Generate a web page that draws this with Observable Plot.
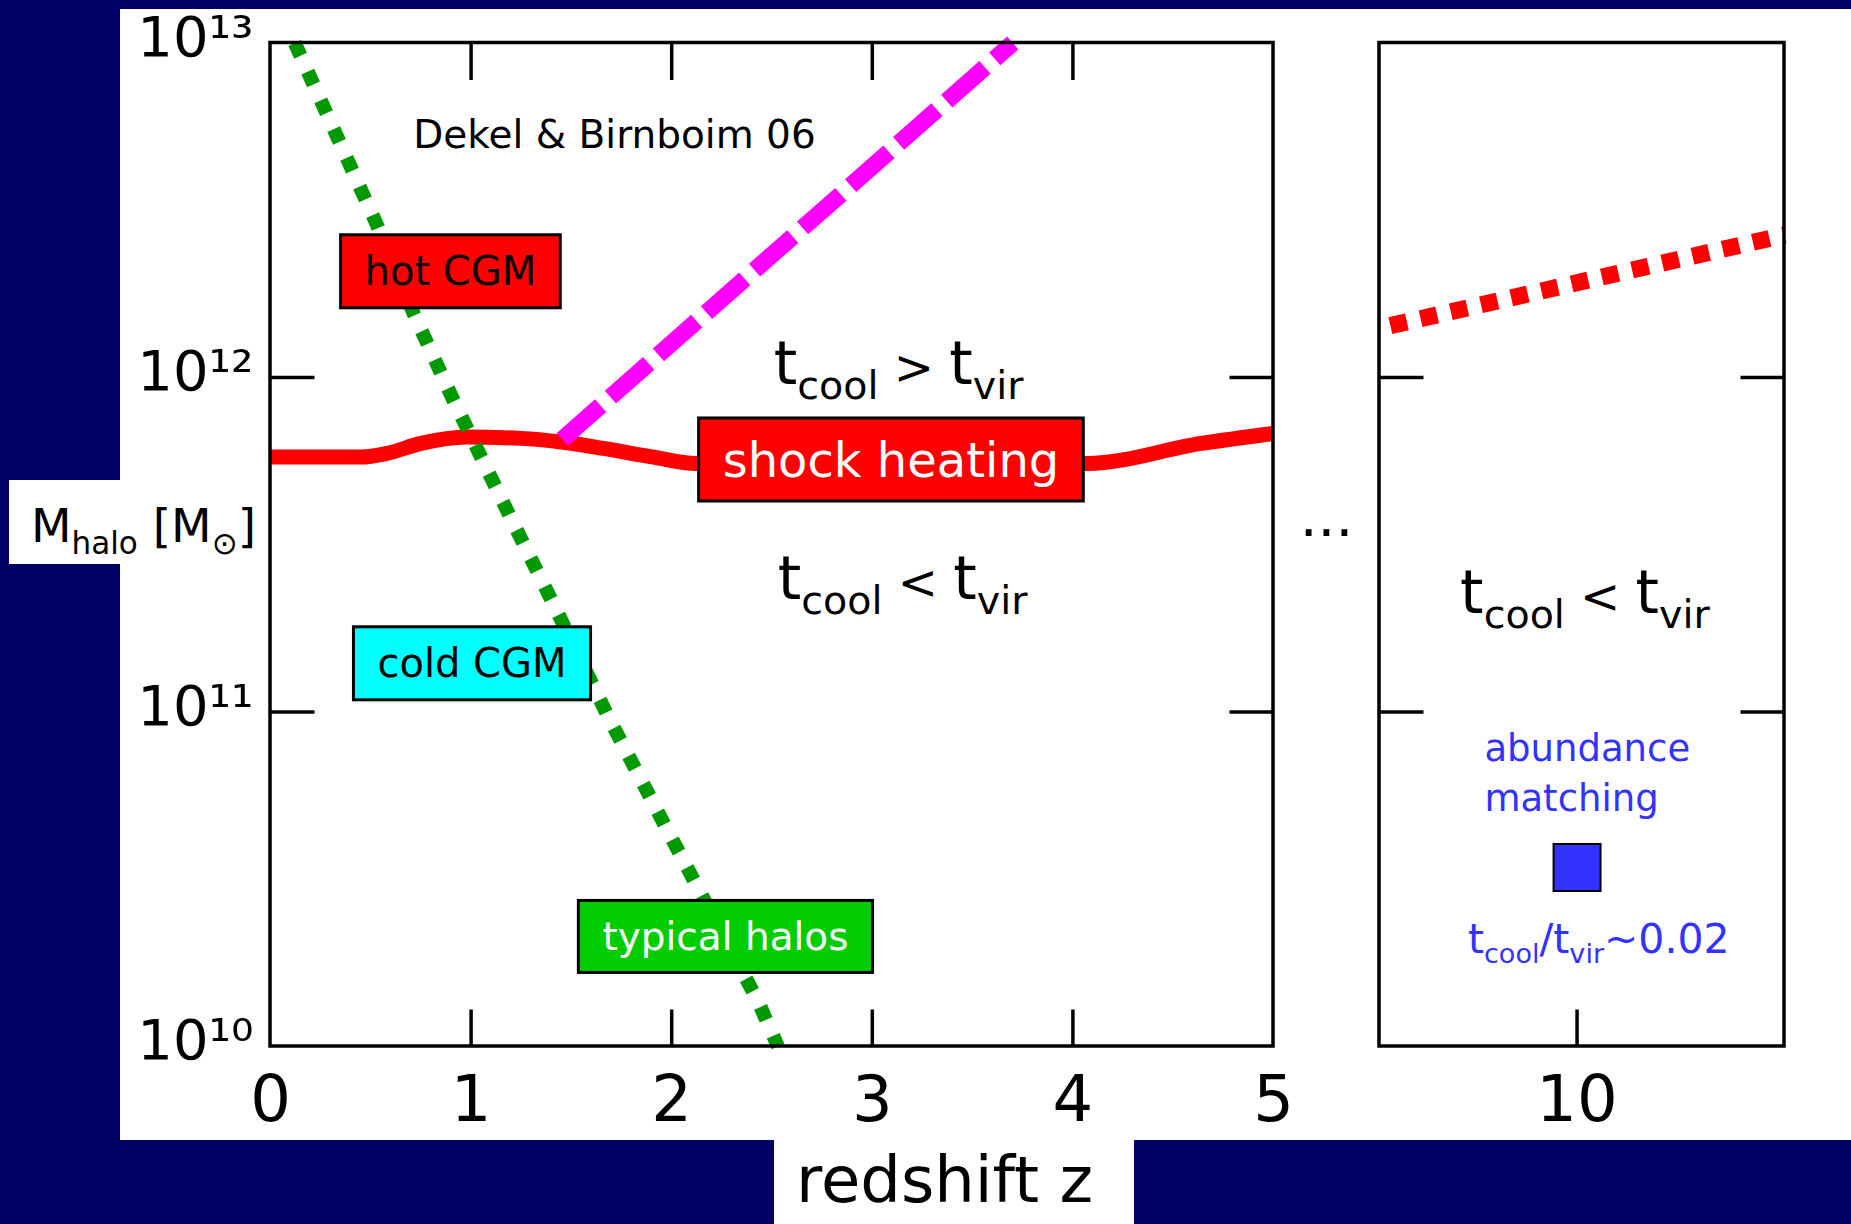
<!DOCTYPE html>
<html>
<head>
<meta charset="utf-8">
<title>Cold streams vs shock heating</title>
<script src="https://cdn.jsdelivr.net/npm/d3@7"></script>
<script src="https://cdn.jsdelivr.net/npm/@observablehq/plot@0.6"></script>
<style>
  html, body { margin: 0; padding: 0; }
  body {
    width: 1851px; height: 1224px; position: relative; overflow: hidden;
    background: #000066; font-family: "DejaVu Sans", sans-serif;
  }
  .sheet { position: absolute; background: #ffffff; }
  #chart { position: absolute; left: 0; top: 0; }
</style>
</head>
<body>
<div class="sheet" style="left:120px; top:9px; width:1731px; height:1131px"></div>
<div class="sheet" style="left:774px; top:1140px; width:360px; height:84px"></div>
<div class="sheet" style="left:9px; top:480px; width:259px; height:84px"></div>
<div id="chart"></div>
<script>
// ---- axes ----
const zPanels = [[0, 5], [9, 11.05]];      // main panel and the z~10 inset panel
const logMRange = [10, 13];                 // log10 of halo mass
const zTickLabels = [0, 1, 2, 3, 4, 5, 10];
const zTicksMain = [1, 2, 3, 4];
const zTicksHigh = [10];
const logMTickLabels = [10, 11, 12, 13];
const logMInnerTicks = [11, 12];

// ---- curves (redshift z, log10 M_halo) ----
// typical halo mass (green, dotted)
const typicalZ    = [0.121, 0.528, 0.713, 0.912, 1.196, 1.406, 1.685, 1.979, 2.129, 2.428, 2.53];
const typicalLogM = [13.0, 12.46, 12.192, 11.932, 11.582, 11.328, 10.984, 10.646, 10.476, 10.138, 10.0];

// shock-heating threshold mass (red, solid)
const shockZ    = [0, 0.45, 0.58, 0.75, 0.98, 1.25, 1.45, 1.66, 1.91, 2.12, 4.07, 4.64, 5.0];
const shockLogM = [11.762, 11.762, 11.773, 11.803, 11.822, 11.818, 11.807, 11.788, 11.762, 11.743, 11.743, 11.803, 11.833];

// upper limit for cold streams in hot media (magenta, dashed)
const upperZ    = [1.455, 3.70];
const upperLogM = [11.815, 13.0];

// threshold at z ~ 10 (red, dotted)
const highZ    = [9.055, 11.05];
const highLogM = [12.155, 12.426];

// abundance matching estimate
const amZ    = [10];
const amLogM = [10.535];

// ---- labels ----
const boxText = ["hot CGM", "cold CGM", "shock heating", "typical halos"];
const boxZ    = [0.897, 1.0045, 3.093, 2.268];
const boxLogM = [12.314, 11.142, 11.750, 10.326];

const regimeText = ["t_{cool}@{ > }t_{vir}", "t_{cool}@{ < }t_{vir}", "t_{cool}@{ < }t_{vir}"];
const regimeZ    = [3.131, 3.151, 10.04];
const regimeLogM = [11.982, 11.339, 11.297];

const creditText = ["Dekel & Birnboim 06"];
const creditZ = [1.715];
const creditLogM = [12.685];

const amText = ["abundance\nmatching", "t_{cool}/t_{vir}~0.02"];
const amTextZ = [9.531, 10.11];
const amTextLogM = [10.703, 10.281];

const gapText = ["..."];
const gapZ = [7];
const gapLogM = [11.525];

// ---- drawing ----
const NS = "http://www.w3.org/2000/svg";
const FONT = '"DejaVu Sans", sans-serif';
const SUP = {"0": "\u2070", "1": "\u00b9", "2": "\u00b2", "3": "\u00b3", "4": "\u2074",
             "5": "\u2075", "6": "\u2076", "7": "\u2077", "8": "\u2078", "9": "\u2079"};
const pow10 = (e) => "10" + String(e).split("").map((c) => SUP[c]).join("");
const mass = (logM) => 10 ** logM;
const rows = (zs, ms, labels) => zs.map((z, i) => ({z, M: mass(ms[i]), text: labels ? labels[i] : null}));
const yLo = mass(logMRange[0]), yHi = mass(logMRange[1]);

const boxStyle = {
  "hot CGM":       {fill: "#ff0000", ink: "#000000", size: 40},
  "cold CGM":      {fill: "#00ffff", ink: "#000000", size: 40},
  "shock heating": {fill: "#ff0000", ink: "#ffffff", size: 48},
  "typical halos": {fill: "#00cc00", ink: "#ffffff", size: 39}
};

// a plain tick stroke drawn from the anchor along the vector direction
const tickShape = {draw(context, l) { context.moveTo(0, 0); context.lineTo(0, -l); }};

const vTicks = [
  ...zTicksMain.flatMap((z) => [{z, logM: logMRange[0], dir: 0}, {z, logM: logMRange[1], dir: 180}]),
  ...zTicksHigh.map((z) => ({z, logM: logMRange[0], dir: 0}))
];
const hTicks = zPanels.flatMap(([a, b]) =>
  logMInnerTicks.flatMap((m) => [{z: a, logM: m, dir: 90}, {z: b, logM: m, dir: 270}]));

const boxRows = rows(boxZ, boxLogM, boxText);

const chart = Plot.plot({
  width: 1851,
  height: 1224,
  marginTop: 0, marginRight: 0, marginBottom: 0, marginLeft: 0,
  style: {background: "transparent", fontFamily: FONT, color: "#000", overflow: "visible"},
  x: {type: "linear", domain: [zPanels[0][0], zPanels[0][1], zPanels[1][0], zPanels[1][1]],
      range: [270, 1273, 1379, 1784], axis: null},
  y: {type: "log", domain: [yLo, yHi], range: [1046, 42.5], axis: null},
  marks: [
    Plot.line(rows(shockZ, shockLogM), {x: "z", y: "M", stroke: "#ff0000", strokeWidth: 15,
      curve: "monotone-x", strokeLinecap: "butt"}),
    Plot.line(rows(upperZ, upperLogM), {x: "z", y: "M", stroke: "#ff00ff", strokeWidth: 17,
      strokeDasharray: "51,13", strokeLinecap: "butt"}),
    Plot.line(rows(typicalZ, typicalLogM), {x: "z", y: "M", stroke: "#009900", strokeWidth: 14,
      strokeDasharray: "14,17.5", strokeLinecap: "butt"}),
    Plot.line(rows(highZ, highLogM), {x: "z", y: "M", stroke: "#ff0000", strokeWidth: 17,
      strokeDasharray: "17,14", strokeLinecap: "butt"}),

    Plot.rect(zPanels, {x1: (d) => d[0], x2: (d) => d[1], y1: yLo, y2: yHi,
      fill: "none", stroke: "#000", strokeWidth: 3.5}),
    Plot.vector(vTicks, {x: "z", y: (d) => mass(d.logM), rotate: "dir", length: 37, anchor: "start",
      shape: tickShape, stroke: "#000", strokeWidth: 3.5, strokeLinecap: "butt"}),
    Plot.vector(hTicks, {x: "z", y: (d) => mass(d.logM), rotate: "dir", length: 44, anchor: "start",
      shape: tickShape, stroke: "#000", strokeWidth: 3.5, strokeLinecap: "butt"}),

    Plot.dot(rows(amZ, amLogM), {x: "z", y: "M", symbol: "square", r: 26.5,
      fill: "#3333ff", stroke: "#000", strokeWidth: 2}),

    // tick labels
    Plot.text(zTickLabels, {x: (d) => d, y: yLo, text: (d) => String(d), fontSize: 64,
      lineAnchor: "top", dy: 29, fill: "#000"}),
    Plot.text(logMTickLabels, {x: zPanels[0][0], y: mass, text: pow10, fontSize: 56,
      textAnchor: "end", dx: -17, dy: -5, fill: "#000"}),

    // regime and reference labels
    Plot.text(rows(regimeZ, regimeLogM, regimeText), {x: "z", y: "M", text: "text", fontSize: 60,
      textAnchor: "middle", lineAnchor: "bottom", fill: "#000"}),
    Plot.text(rows(creditZ, creditLogM, creditText), {x: "z", y: "M", text: "text", fontSize: 39,
      textAnchor: "middle", lineAnchor: "bottom", fill: "#000"}),
    Plot.text(rows(gapZ, gapLogM, gapText), {x: "z", y: "M", text: "text", fontSize: 56,
      textAnchor: "middle", lineAnchor: "bottom", fill: "#000"}),
    Plot.text(rows(amTextZ.slice(0, 1), amTextLogM.slice(0, 1), amText.slice(0, 1)), {x: "z", y: "M", text: "text",
      fontSize: 37, lineHeight: 1.35, textAnchor: "start", lineAnchor: "bottom", fill: "#3333ff"}),
    Plot.text(rows(amTextZ.slice(1), amTextLogM.slice(1), amText.slice(1)), {x: "z", y: "M", text: "text",
      fontSize: 41, textAnchor: "middle", lineAnchor: "bottom", fill: "#3333ff"}),

    // boxed labels
    ...boxRows.map((r) => Plot.text([r], {x: "z", y: "M", text: "text",
      fontSize: boxStyle[r.text].size, fill: boxStyle[r.text].ink,
      textAnchor: "middle", lineAnchor: "middle"}))
  ]
});

document.getElementById("chart").append(chart);

// axis titles
function addTitle(svg, str, x, y, size) {
  const t = document.createElementNS(NS, "text");
  t.setAttribute("x", x);
  t.setAttribute("y", y);
  t.setAttribute("font-size", size);
  t.setAttribute("text-anchor", "start");
  t.setAttribute("fill", "#000");
  t.textContent = str;
  svg.appendChild(t);
}
addTitle(chart, "redshift z", 796, 1202, 64);
addTitle(chart, "M_{halo} [M_{\u2299}]", 31, 542, 47);

// _{...} is a subscript, @{...} a slightly smaller inline run
function richText(root) {
  root.querySelectorAll("text").forEach((t) => {
    const src = t.textContent;
    if (!/[_@]\{/.test(src)) return;
    const fs = parseFloat(getComputedStyle(t).fontSize);
    const small = fs * 0.66, drop = fs * 0.25, mid = fs * 0.8;
    t.textContent = "";
    let shift = 0;
    src.split(/([_@]\{[^}]*\})/).filter(Boolean).forEach((part) => {
      const span = document.createElementNS(NS, "tspan");
      let want = 0;
      if (part.startsWith("_{")) {
        span.textContent = part.slice(2, -1);
        span.setAttribute("font-size", small);
        want = drop;
      } else if (part.startsWith("@{")) {
        span.textContent = part.slice(2, -1);
        span.setAttribute("font-size", mid);
      } else {
        span.textContent = part;
      }
      if (want !== shift) { span.setAttribute("dy", want - shift); shift = want; }
      t.appendChild(span);
    });
  });
}
richText(chart);

// framed backgrounds sized to their labels
function addBoxes(root) {
  root.querySelectorAll("text").forEach((t) => {
    const st = boxStyle[t.textContent];
    if (!st) return;
    const b = t.getBBox();
    const padX = 24, padY = 13.5;
    const r = document.createElementNS(NS, "rect");
    r.setAttribute("x", b.x - padX);
    r.setAttribute("y", b.y - padY);
    r.setAttribute("width", b.width + 2 * padX);
    r.setAttribute("height", b.height + 2 * padY);
    const tr = t.getAttribute("transform");
    if (tr) r.setAttribute("transform", tr);
    r.setAttribute("fill", st.fill);
    r.setAttribute("stroke", "#000");
    r.setAttribute("stroke-width", 3);
    t.parentNode.insertBefore(r, t);
  });
}
addBoxes(chart);
</script>
</body>
</html>
